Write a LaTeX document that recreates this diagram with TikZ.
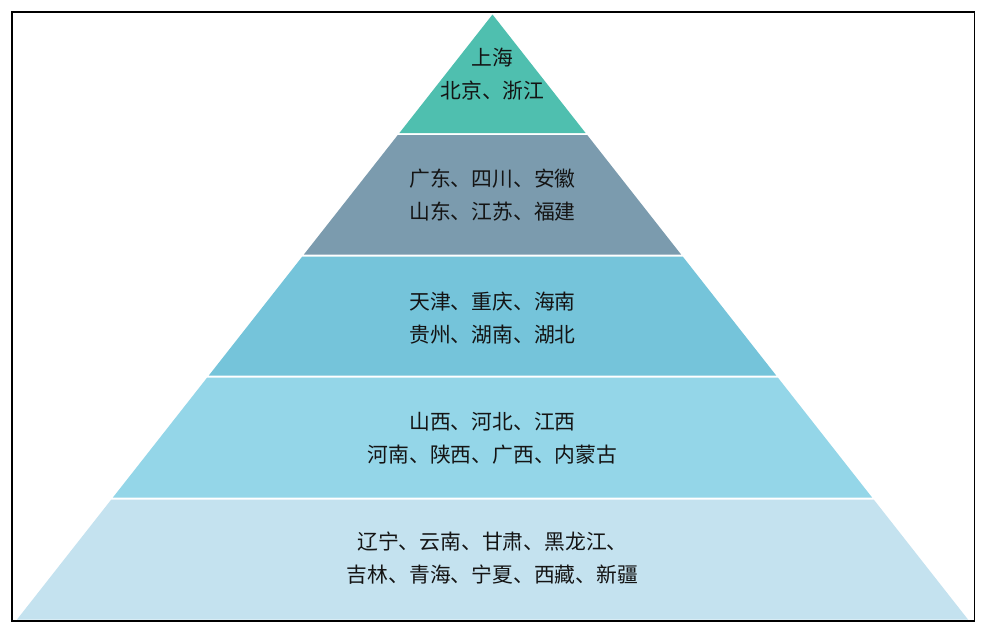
\documentclass[tikz,border=0pt]{standalone}
\usepackage{fontspec}
\newfontfamily\cjk{Noto Sans CJK SC}
\definecolor{cA}{HTML}{4FBFAF}
\definecolor{cB}{HTML}{7B9BAE}
\definecolor{cC}{HTML}{75C4DA}
\definecolor{cD}{HTML}{94D6E8}
\definecolor{cE}{HTML}{C4E2EF}
\definecolor{txt}{HTML}{141414}
\tikzset{
  layerlabel/.style={align=center, text=txt, inner sep=0pt,
    font=\cjk\fontsize{20.8}{33}\selectfont},
}
\begin{document}
\begin{tikzpicture}[x=1pt,y=-1pt]
\useasboundingbox (0,0) rectangle (986,633);
\fill[white] (0,0) rectangle (986,633);
\draw[line width=1.2pt, black] (12,12) rectangle (974.5,621);
% layers
\fill[cA] (492.5,14.5) -- (585.6,133) -- (399.4,133) -- cycle;
\fill[cB] (397.8,135) -- (587.2,135) -- (681.1,254.5) -- (303.9,254.5) -- cycle;
\fill[cC] (302.3,256.5) -- (682.7,256.5) -- (776.2,375.5) -- (208.8,375.5) -- cycle;
\fill[cD] (207.2,377.5) -- (777.8,377.5) -- (872.1,497.5) -- (112.9,497.5) -- cycle;
\fill[cE] (111.3,499.5) -- (873.7,499.5) -- (968,619.5) -- (17,619.5) -- cycle;
% labels
\node[layerlabel] (l1) at (492.5,74) {上海\\北京、浙江};
\node[layerlabel] (l2) at (492.5,195) {广东、四川、安徽\\山东、江苏、福建};
\node[layerlabel] (l3) at (492.5,318) {天津、重庆、海南\\贵州、湖南、湖北};
\node[layerlabel] (l4) at (492.5,438.5) {山西、河北、江西\\河南、陕西、广西、内蒙古};
\node[layerlabel] (l5) at (492.5,558.5) {辽宁、云南、甘肃、黑龙江、\\吉林、青海、宁夏、西藏、新疆};
\end{tikzpicture}
\end{document}
